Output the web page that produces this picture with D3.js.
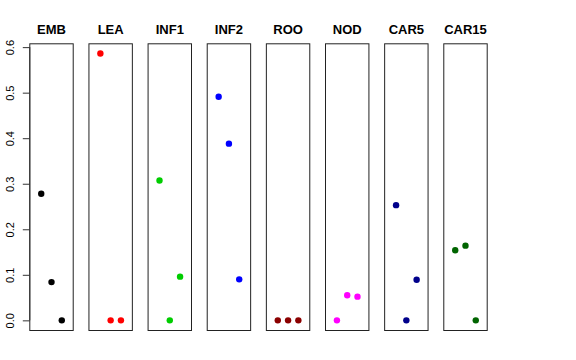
<!DOCTYPE html>
<html><head><meta charset="utf-8">
<script src="https://cdn.jsdelivr.net/npm/d3@7/dist/d3.min.js"></script>
<style>body{margin:0;background:#fff;} svg{display:block;}</style>
</head><body>
<script>
const categories = ["EMB","LEA","INF1","INF2","ROO","NOD","CAR5","CAR15"];
const colors = ["#000000","#FF0000","#00CD00","#0000FF","#8B0000","#FF00FF","#00008B","#006400"];
const values = [
  [0.278, 0.084, 0.0],
  [0.586, 0.0, 0.0],
  [0.307, 0.0, 0.096],
  [0.491, 0.388, 0.090],
  [0.0, 0.0, 0.0],
  [0.0, 0.055, 0.052],
  [0.253, 0.0, 0.089],
  [0.154, 0.164, 0.0]
];
const yTicks = [0, 0.1, 0.2, 0.3, 0.4, 0.5, 0.6];

const W = 576, H = 360;
const svg = d3.select("body").append("svg").attr("width", W).attr("height", H);

const band = d3.scaleBand().domain(categories).range([29.3, 487.7 + 0]).paddingInner(0.249).paddingOuter(0);
// adjust so last panel right edge is 487.7
const y = d3.scaleLinear().domain([-0.0234, 0.6084]).range([331, 43.3]);
const x = d3.scaleLinear().domain([-0.16, 4.16]).range([0, band.bandwidth()]);

categories.forEach((c, i) => {
  const g = svg.append("g").attr("transform", `translate(${band(c)},0)`);
  g.append("rect")
    .attr("x", 0.5).attr("y", y.range()[1] + 0.5)
    .attr("width", band.bandwidth() - 1).attr("height", y.range()[0] - y.range()[1] - 1)
    .attr("fill", "none").attr("stroke", "#222").attr("stroke-width", 1);
  g.selectAll("circle").data(values[i]).join("circle")
    .attr("cx", (d, j) => x(j + 1))
    .attr("cy", d => y(d))
    .attr("r", 3.2)
    .attr("fill", colors[i]);
  g.append("text")
    .attr("x", band.bandwidth() / 2).attr("y", 34)
    .attr("text-anchor", "middle")
    .attr("font-family", "Liberation Sans, Arial, sans-serif")
    .attr("font-weight", "bold").attr("font-size", 13)
    .text(c);
});

const axis = d3.axisLeft(y).tickValues(yTicks).tickSize(7).tickFormat(d3.format(".1f"));
const ag = svg.append("g").attr("transform", `translate(${band(categories[0]) + 0.5},0)`).call(axis);
ag.select(".domain").attr("d", `M0,${y(0)}V${y(0.6)}`).attr("stroke", "#333");
ag.selectAll(".tick line").attr("stroke", "#333");
ag.selectAll(".tick text")
  .attr("font-family", "Liberation Sans, Arial, sans-serif")
  .attr("font-size", 11).attr("fill", "#000")
  .attr("x", null).attr("dy", null)
  .attr("text-anchor", "middle")
  .attr("transform", "translate(-16,0) rotate(-90)");
</script>
</body></html>
